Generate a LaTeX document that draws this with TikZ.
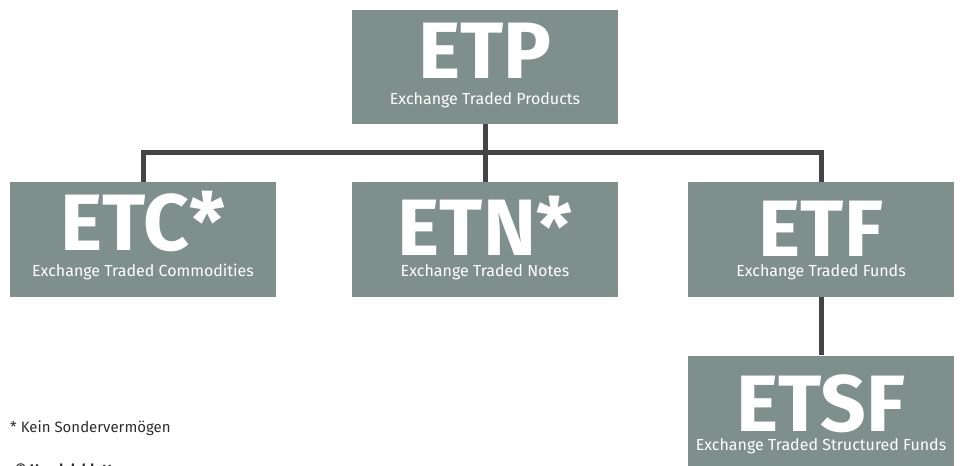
\documentclass[tikz,border=0pt]{standalone}
\usepackage{fontspec}
\setmainfont{Fira Sans}
\usetikzlibrary{calc,positioning}

\definecolor{boxgray}{RGB}{127,143,140}
\definecolor{linegray}{RGB}{68,68,68}
\definecolor{notegray}{RGB}{45,45,45}

\tikzset{
    etbox/.style={draw=none, fill=boxgray, minimum width=266pt, minimum height=115pt, inner sep=0pt},
    bigtag/.style={text=white, font=\fontsize{80}{80}\selectfont\bfseries, anchor=base, inner sep=0pt},
    subtag/.style={text=white, font=\fontsize{16}{16}\selectfont, anchor=base, inner sep=0pt},
    link/.style={line width=5pt, draw=linegray, line join=miter},
    note/.style={text=notegray, anchor=base west, inner sep=0pt}
}

\begin{document}
\begin{tikzpicture}[x=1pt, y=-1pt]
    \useasboundingbox (0,0) rectangle (962,466);

    \coordinate (P) at (485, 67);
    \coordinate (C) at (143, 239.5);
    \coordinate (N) at (485, 239.5);
    \coordinate (F) at (821, 239.5);
    \coordinate (S) at (821, 413);

    % die Kaesten
    \node[etbox, minimum height=114pt] (etp) at (P) {};
    \node[etbox] (etc) at (C) {};
    \node[etbox] (etn) at (N) {};
    \node[etbox] (etf) at (F) {};
    \node[etbox] (etsf) at (S) {};

    % Verbindungen
    \draw[link] (etc.north) -- ++(0,-29) -| (etf.north);
    \draw[link] (etp.south) -- (etn.north);
    \draw[link] (etf.south) -- (etsf.north);

    % Beschriftungen
    \node[bigtag] (etpbig) at ($(P)+(0,11)$) {ETP};
    \node[subtag] (etpsub) at ($(P)+(0,37)$) {Exchange Traded Products};
    \node[bigtag] (etcbig) at ($(C)+(0,11)$) {ETC*};
    \node[subtag] (etcsub) at ($(C)+(0,37)$) {Exchange Traded Commodities};
    \node[bigtag] (etnbig) at ($(N)+(0,16)$) {ETN*};
    \node[subtag] (etnsub) at ($(N)+(0,37)$) {Exchange Traded Notes};
    \node[bigtag] (etfbig) at ($(F)+(0,17)$) {ETF};
    \node[subtag] (etfsub) at ($(F)+(0,37)$) {Exchange Traded Funds};
    \node[bigtag] (etsfbig) at ($(S)+(0,18)$) {ETSF};
    \node[subtag] (etsfsub) at ($(S)+(0,37)$) {Exchange Traded Structured Funds};

    \node[note, font=\fontsize{15}{15}\selectfont] (fussnote) at (10, 432) {* Kein Sondervermögen};
    \node[note, font=\fontsize{14}{14}\selectfont\bfseries] (quelle) at (15, 474) {© Handelsblatt};
\end{tikzpicture}
\end{document}
